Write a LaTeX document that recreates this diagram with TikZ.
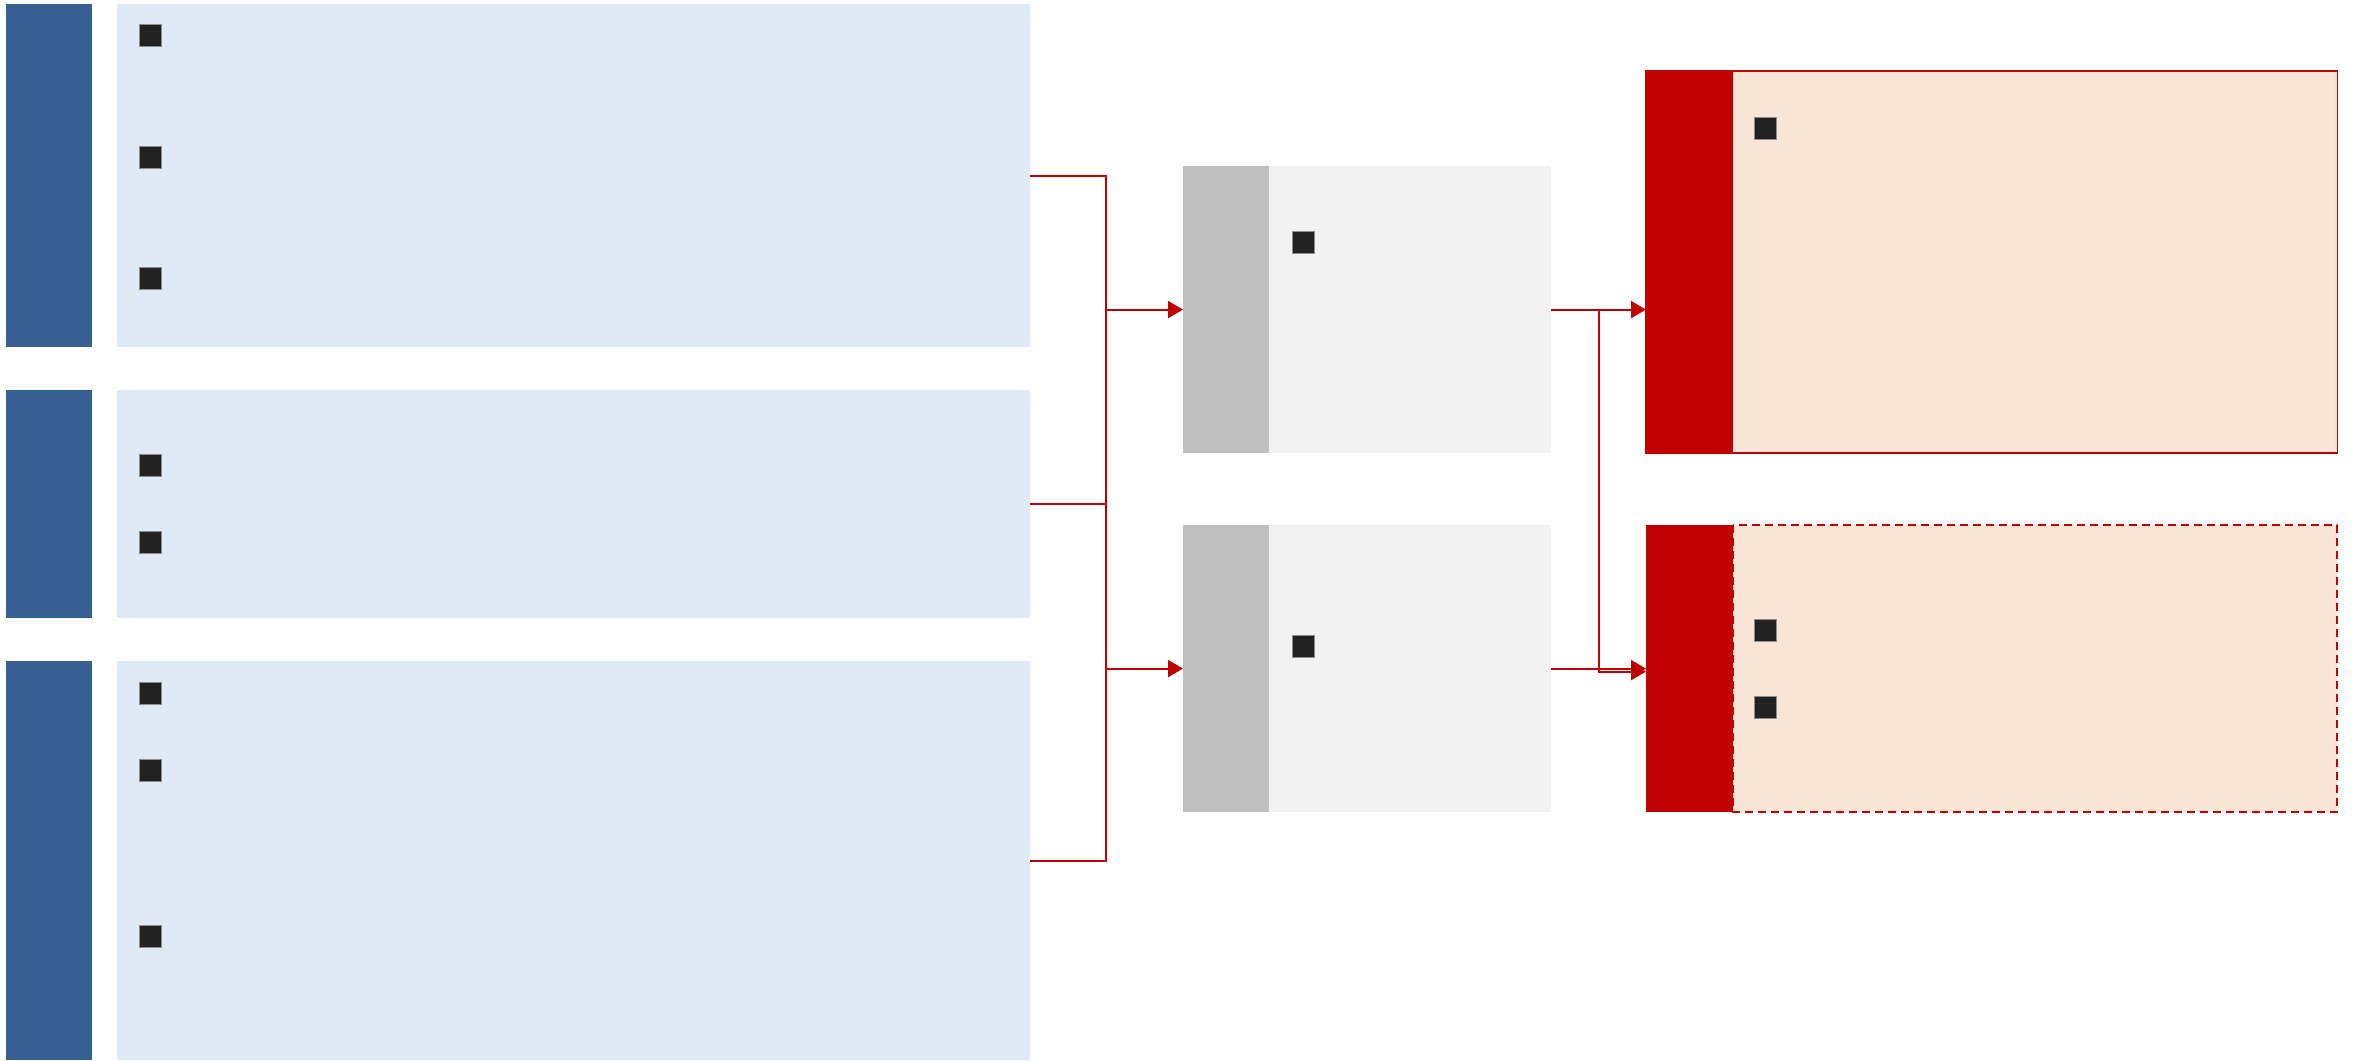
\documentclass[tikz,border=0pt]{standalone}
\usetikzlibrary{arrows.meta}
\definecolor{barblue}{HTML}{366092}
\definecolor{lightblue}{HTML}{DEEAF6}
\definecolor{bargray}{HTML}{BFBFBF}
\definecolor{lightgray}{HTML}{F2F2F2}
\definecolor{darkred}{HTML}{C00000}
\definecolor{peach}{HTML}{FAE4D6}
\definecolor{bulletc}{HTML}{222222}
\tikzset{
  blk/.style={rectangle, inner sep=0pt, outer sep=0pt, anchor=north west, draw=none},
  bul/.style={rectangle, inner sep=0pt, outer sep=0pt, minimum width=0.22cm, minimum height=0.22cm, fill=bulletc, draw=black!45, line width=0.25pt},
  conn/.style={draw=darkred, line width=0.6pt},
  arr/.style={conn, -{Triangle[length=1.5mm, width=1.7mm]}},
}
\begin{document}
\begin{tikzpicture}[x=0.01cm, y=-0.01cm]
\useasboundingbox (0,0) rectangle (2354,1060);
% left column
\node[blk, fill=barblue, minimum width=0.86cm, minimum height=3.43cm] (B1) at (6,4) {};
\node[blk, fill=lightblue, minimum width=9.12cm, minimum height=3.43cm] (L1) at (117,4) {};
\node[blk, fill=barblue, minimum width=0.86cm, minimum height=2.28cm] (B2) at (6,390) {};
\node[blk, fill=lightblue, minimum width=9.12cm, minimum height=2.28cm] (L2) at (117,390) {};
\node[blk, fill=barblue, minimum width=0.86cm, minimum height=3.99cm] (B3) at (6,661) {};
\node[blk, fill=lightblue, minimum width=9.12cm, minimum height=3.99cm] (L3) at (117,661) {};
\node[bul] (b11) at (150,35) {};
\node[bul] (b12) at (150,157) {};
\node[bul] (b13) at (150,278) {};
\node[bul] (b21) at (150,465) {};
\node[bul] (b22) at (150,542) {};
\node[bul] (b31) at (150,693) {};
\node[bul] (b32) at (150,770) {};
\node[bul] (b33) at (150,936) {};
% gray column
\node[blk, fill=bargray, minimum width=0.86cm, minimum height=2.87cm] (GB1) at (1183,166) {};
\node[blk, fill=lightgray, minimum width=2.82cm, minimum height=2.87cm] (G1) at (1269,166) {};
\node[blk, fill=bargray, minimum width=0.86cm, minimum height=2.87cm] (GB2) at (1183,525) {};
\node[blk, fill=lightgray, minimum width=2.82cm, minimum height=2.87cm] (G2) at (1269,525) {};
\node[bul] (g1) at (1303,242) {};
\node[bul] (g2) at (1303,646) {};
% red column
\node[blk, fill=darkred, minimum width=0.87cm, minimum height=3.82cm] (RB1) at (1646,71) {};
\node[blk, fill=peach, minimum width=6.04cm, minimum height=3.82cm] (R1) at (1733,71) {};
\draw[darkred, line width=0.45pt] (RB1.north west) rectangle (R1.south east);
\node[blk, fill=darkred, minimum width=0.87cm, minimum height=2.87cm] (RB2) at (1646,525) {};
\node[blk, fill=peach, minimum width=6.04cm, minimum height=2.87cm] (R2) at (1733,525) {};
\draw[darkred, line width=0.55pt, dash pattern=on 0.08cm off 0.05cm] (R2.north west) rectangle (R2.south east);
\node[bul] (r11) at (1765,128) {};
\node[bul] (r21) at (1765,630) {};
\node[bul] (r22) at (1765,707) {};
% connectors
\coordinate (J) at (1106,0);
\coordinate (K) at (1599,0);
\draw[conn] (L1.east) -- (L1.east -| J) -- (L3.east -| J) -- (L3.east);
\draw[conn] (L2.east) -- (L2.east -| J);
\draw[arr] (GB1.west -| J) -- (GB1.west);
\draw[arr] (GB2.west -| J) -- (GB2.west);
\draw[arr] (G1.east) -- (G1.east -| RB1.west);
\draw[arr] (G2.east) -- (G2.east -| RB2.west);
\draw[arr] (G1.east -| K) -- ([yshift=-0.03cm]G2.east -| K) -- ([yshift=-0.03cm]G2.east -| RB2.west);
\end{tikzpicture}
\end{document}
